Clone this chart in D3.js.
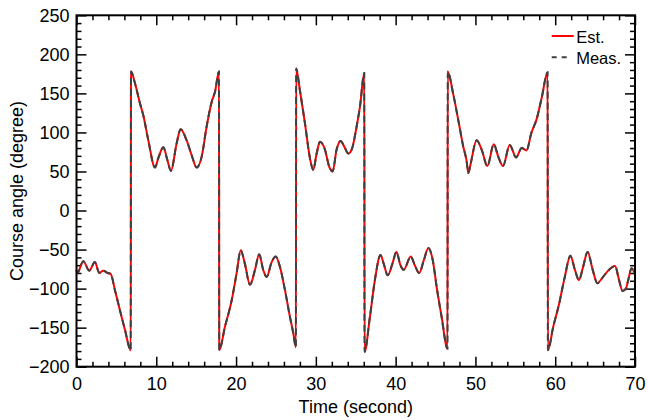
<!DOCTYPE html>
<html>
  <head>
    <meta charset="utf-8">
    <title>Course angle</title>
    <script src="https://d3js.org/d3.v7.min.js"></script>
    <style>
      body { margin: 0; background: #fff; }
      text { font-family: "Liberation Sans", Arial, sans-serif; fill: #000; }
      .axis path { display: none; }
      .axis line { stroke: #000; stroke-width: 1.5; }
    </style>
  </head>
  <body>
    <div id="chart"></div>
    <script>
    // data (time in seconds, course angle in degrees)
    const timeSec = [0, 0.1, 0.85, 1.6, 2.3, 2.86, 3.36, 3.9, 4.28, 4.82, 5.45, 6.08, 6.8,
      6.83, 7.33, 7.96, 8.37, 9.0, 9.84, 10.25, 10.88, 11.38, 11.84, 12.55, 13.05, 13.8, 14.43, 15.06, 15.69, 16.3, 16.94, 17.36, 17.86,
      17.89, 18.6, 19.45, 20.07, 20.58, 21.1, 21.74, 22.37, 22.9, 23.4, 23.83, 24.46, 24.96, 25.5, 26.13, 26.75, 27.17, 27.5,
      27.53, 28.0, 28.63, 29.26, 29.67, 30.1, 30.51, 31.14, 31.68, 32.1, 32.6, 33.1, 33.65, 34.06, 34.49, 35.1, 35.53, 36.07,
      36.1, 36.78, 37.4, 38.1, 38.5, 39.0, 39.6, 40.1, 40.6, 41.0, 41.9, 42.4, 42.95, 43.55, 44.1, 44.64, 45.2, 45.76, 46.5,
      46.53, 47.2, 47.85, 48.47, 48.9, 49.1, 49.4, 50.15, 50.78, 51.5, 52.3, 52.86, 53.45, 54.3, 55.1, 55.8, 56.4, 57.0, 57.7, 58.3, 59.05,
      59.08, 59.75, 60.5, 61.2, 61.9, 62.47, 62.97, 63.5, 64.06, 64.7, 65.27, 66.0, 66.64, 67.5, 68.0, 68.44, 68.86, 69.15, 69.57, 70];

    const estDeg = [-76, -80, -65, -77, -66, -80, -77, -80, -81, -102, -128, -153, -179,
      178, 163, 137, 122, 90, 55, 67, 81, 65, 51, 86, 104, 90, 71, 55, 69, 107, 139, 152, 178,
      -179, -149, -115, -80, -51, -68, -95, -76, -56, -76, -85, -66, -59, -72, -102, -136, -157, -175,
      182, 154, 112, 67, 52, 73, 88, 78, 56, 50, 78, 89, 80, 73, 78, 107, 133, 176,
      -181, -136, -89, -57, -68, -83, -68, -53, -70, -76, -59, -70, -80, -63, -48, -63, -102, -136, -177,
      178, 150, 116, 82, 63, 48, 60, 90, 78, 57, 85, 69, 57, 84, 68, 80, 77, 99, 118, 144, 177,
      -179, -149, -119, -85, -58, -76, -89, -72, -53, -76, -93, -85, -77, -71, -89, -103, -100, -89, -74, -82];

    const measDeg = [-77, -80, -65, -77, -66, -80, -77, -80, -81, -102, -128, -153, -179,
      178, 163, 137, 122, 90, 55, 67, 81, 65, 51, 86, 104, 90, 71, 55, 69, 107, 139, 152, 178,
      -179, -149, -115, -80, -51, -68, -95, -76, -56, -76, -85, -66, -59, -72, -102, -136, -157, -175,
      182, 154, 112, 67, 52, 73, 88, 78, 56, 50, 78, 89, 80, 73, 78, 107, 133, 176,
      -181, -136, -89, -57, -68, -83, -68, -53, -70, -76, -59, -70, -80, -63, -48, -63, -102, -136, -177,
      178, 150, 116, 82, 63, 48, 60, 90, 78, 57, 85, 69, 57, 84, 68, 80, 77, 99, 118, 144, 177,
      -179, -149, -119, -85, -58, -76, -89, -72, -53, -76, -93, -85, -77, -71, -89, -103, -100, -89, -74, -82];

    const xTicks = [0, 10, 20, 30, 40, 50, 60, 70];
    const yTicks = [-200, -150, -100, -50, 0, 50, 100, 150, 200, 250];
    const xMinor = [2, 4, 6, 8, 12, 14, 16, 18, 22, 24, 26, 28, 32, 34, 36, 38, 42, 44, 46, 48, 52, 54, 56, 58, 62, 64, 66, 68];
    const yMinor = [-190, -180, -170, -160, -140, -130, -120, -110, -90, -80, -70, -60, -40, -30, -20, -10,
      10, 20, 30, 40, 60, 70, 80, 90, 110, 120, 130, 140, 160, 170, 180, 190, 210, 220, 230, 240];

    // Set the dimensions and margins of the graph
    var margin = {top: 15.3, right: 13, bottom: 53.3, left: 76.5},
      width = 648 - margin.left - margin.right,
      height = 420 - margin.top - margin.bottom;

    const svg = d3.select("#chart")
      .append("svg")
      .attr("width", 648)
      .attr("height", 420)
      .append("g")
      .attr("transform", "translate(" + margin.left + "," + margin.top + ")");

    const x = d3.scaleLinear().domain([0, 70]).range([0, width]);
    const y = d3.scaleLinear().domain([-200, 250]).range([height, 0]);

    // ticks pointing inward on all four sides
    function addAxis(axis, tx, ty) {
      svg.append("g")
        .attr("class", "axis")
        .attr("transform", "translate(" + tx + "," + ty + ")")
        .call(axis);
    }
    addAxis(d3.axisBottom(x).tickValues(xMinor).tickSize(-5).tickFormat(""), 0, height);
    addAxis(d3.axisTop(x).tickValues(xMinor).tickSize(-5).tickFormat(""), 0, 0);
    addAxis(d3.axisTop(x).tickValues(xTicks).tickSize(-10).tickFormat(""), 0, 0);
    addAxis(d3.axisLeft(y).tickValues(yMinor).tickSize(-5).tickFormat(""), 0, 0);
    addAxis(d3.axisRight(y).tickValues(yMinor).tickSize(-5).tickFormat(""), width, 0);
    addAxis(d3.axisRight(y).tickValues(yTicks).tickSize(-10).tickFormat(""), width, 0);

    // labelled axes
    const xAxis = svg.append("g")
      .attr("class", "axis")
      .attr("transform", "translate(0," + height + ")")
      .call(d3.axisBottom(x).tickValues(xTicks).tickSize(-10).tickPadding(11).tickFormat(d3.format("d")));
    xAxis.selectAll("text").style("font-size", "18px").attr("dy", "0.71em");

    const yAxis = svg.append("g")
      .attr("class", "axis")
      .call(d3.axisLeft(y).tickValues(yTicks).tickSize(-10).tickPadding(7).tickFormat(d3.format("d")));
    yAxis.selectAll("text").style("font-size", "18px");

    // the lines: estimate (red) under the dashed measurement
    const line = d3.line()
      .x(d => x(d[0]))
      .y(d => y(d[1]))
      .curve(d3.curveMonotoneX);

    svg.append("path")
      .datum(timeSec.map((t, i) => [t, estDeg[i]]))
      .attr("fill", "none")
      .attr("stroke", "#ff0000")
      .attr("stroke-width", 2)
      .attr("d", line);

    svg.append("path")
      .datum(timeSec.map((t, i) => [t, measDeg[i]]))
      .attr("fill", "none")
      .attr("stroke", "#404040")
      .attr("stroke-width", 2)
      .attr("stroke-dasharray", "7,4")
      .attr("d", line);

    // frame
    svg.append("rect")
      .attr("width", width)
      .attr("height", height)
      .attr("fill", "none")
      .attr("stroke", "#000")
      .attr("stroke-width", 2);

    // axis titles
    svg.append("text")
      .attr("x", width / 2)
      .attr("y", height + 46.5)
      .attr("text-anchor", "middle")
      .style("font-size", "18px")
      .text("Time (second)");

    svg.append("text")
      .attr("transform", "translate(" + (-53.5) + "," + (height / 2) + ")rotate(-90)")
      .attr("text-anchor", "middle")
      .style("font-size", "18px")
      .text("Course angle (degree)");

    // legend
    const legend = svg.append("g")
      .attr("transform", "translate(" + (551.7 - margin.left) + "," + (36 - margin.top) + ")");
    legend.append("line")
      .attr("x1", 0).attr("x2", 22).attr("y1", 0).attr("y2", 0)
      .attr("stroke", "#ff0000").attr("stroke-width", 2);
    legend.append("text")
      .attr("x", 24.5).attr("y", 7)
      .style("font-size", "16.5px")
      .text("Est.");
    legend.append("line")
      .attr("x1", 0).attr("x2", 17).attr("y1", 21.3).attr("y2", 21.3)
      .attr("stroke", "#404040").attr("stroke-width", 2)
      .attr("stroke-dasharray", "5,5");
    legend.append("text")
      .attr("x", 24.5).attr("y", 28.3)
      .style("font-size", "16.5px")
      .text("Meas.");
    </script>
  </body>
</html>
